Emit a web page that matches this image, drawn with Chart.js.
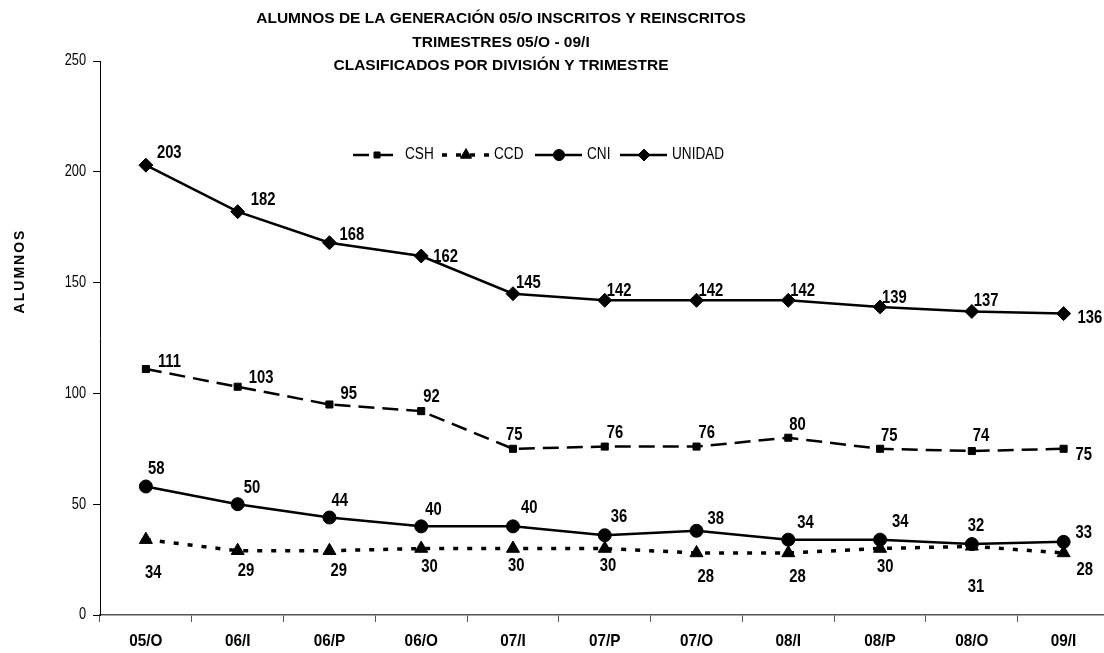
<!DOCTYPE html>
<html><head><meta charset="utf-8">
<script src="https://cdn.jsdelivr.net/npm/chart.js@4"></script>
<style>html,body{margin:0;padding:0;background:#fff;overflow:hidden}#wrap{width:1104px;height:653px;overflow:hidden}</style>
</head><body><div id="wrap"><canvas id="c" width="1118" height="653"></canvas></div>
<script>
const categories = ['05/O','06/I','06/P','06/O','07/I','07/P','07/O','08/I','08/P','08/O','09/I'];
const csh    = [111,103,95,92,75,76,76,80,75,74,75];
const ccd    = [34,29,29,30,30,30,28,28,30,31,28];
const cni    = [58,50,44,40,40,36,38,34,34,32,33];
const unidad = [203,182,168,162,145,142,142,142,139,137,136];
const yTicks = [0,50,100,150,200,250];
const titleLines = ['ALUMNOS DE LA GENERACIÓN 05/O INSCRITOS Y REINSCRITOS','TRIMESTRES 05/O - 09/I','CLASIFICADOS POR DIVISIÓN Y TRIMESTRE'];
const FONT = '"Liberation Sans",Arial,sans-serif';

function drawText(ctx, text, x, y, font, align, sx){
  ctx.save();
  ctx.font = font;
  ctx.textBaseline = 'middle';
  ctx.textAlign = align;
  ctx.translate(x, y);
  ctx.scale(sx, 1);
  ctx.fillText(text, 0, 0);
  ctx.restore();
}

const labelPos = {
  CSH:    {dx:6, dy:-12, over:{0:[12,-7],1:[11,-9],2:[11,-11],3:[2,-14],4:[-7,-14],5:[2,-14],6:[2,-14],7:[1,-13],8:[1,-13],9:[1,-15],10:[12,6]}},
  CCD:    {dx:0, dy:24, over:{0:[-1,33],1:[0,20],2:[1,20],3:[0,18],4:[-5,17],5:[-5,17],6:[1,24],7:[1,24],8:[-3,18],9:[-4,40],10:[13,17]}},
  CNI:    {dx:4, dy:-17, over:{0:[2,-18],1:[6,-16],2:[2,-17],3:[4,-17],4:[8,-19],5:[6,-18],6:[11,-12],7:[9,-17],8:[12,-18],9:[-4,-18],10:[12,-9]}},
  UNIDAD: {dx:11, dy:-11, over:{0:[11,-12],1:[13,-12],2:[10,-8],3:[12,1],4:[3,-11],5:[2,-10],6:[2,-10],7:[2,-10],8:[2,-9],9:[2,-11],10:[14,4]}}
};
const legendX = [353,442,535,620];

const labelPlugin = {
  id:'dlabels',
  afterDatasetsDraw(chart){
    const ctx = chart.ctx;
    ctx.fillStyle = '#000';
    chart.data.datasets.forEach((ds,i)=>{
      const meta = chart.getDatasetMeta(i);
      const p = labelPos[ds.label];
      meta.data.forEach((pt,j)=>{
        const o = p.over[j] || [p.dx,p.dy];
        drawText(ctx, String(ds.data[j]), pt.x + o[0], pt.y + o[1], 'bold 19px '+FONT, 'left', 0.78);
      });
    });
  }
};

const decoPlugin = {
  id:'deco',
  afterDraw(chart){
    const ctx = chart.ctx;
    ctx.save();
    ctx.fillStyle = '#000';
    titleLines.forEach((t,i)=>drawText(ctx, t, 501, 19 + i*23.5, 'bold 15.5px '+FONT, 'center', 1));
    const xs = chart.scales.x, ys = chart.scales.y;
    categories.forEach((c,i)=>drawText(ctx, c, xs.getPixelForValue(i), xs.top + 26, 'bold 17px '+FONT, 'center', 0.9));
    yTicks.forEach(v=>drawText(ctx, String(v), ys.right - 14, ys.getPixelForValue(v), '16px '+FONT, 'right', 0.8));
    ctx.save();
    ctx.translate(20, 271);
    ctx.rotate(-Math.PI/2);
    ctx.font = 'bold 14px '+FONT;
    ctx.letterSpacing = '2px';
    ctx.textAlign = 'center';
    ctx.textBaseline = 'middle';
    ctx.fillText('ALUMNOS', 0, 0);
    ctx.restore();
    const y = 155;
    chart.data.datasets.forEach((ds,i)=>{
      const x = legendX[i];
      ctx.save();
      ctx.strokeStyle = '#000';
      ctx.lineWidth = ds.borderWidth;
      ctx.setLineDash(ds.borderDash || []);
      ctx.beginPath(); ctx.moveTo(x, y); ctx.lineTo(x+47, y); ctx.stroke();
      ctx.restore();
      Chart.helpers.drawPoint(ctx, {pointStyle: ds.pointStyle, radius: ds.pointRadius*0.85, borderWidth:1}, x+24, y);
      drawText(ctx, ds.label, x+52, y, '16px '+FONT, 'left', 0.85);
    });
    ctx.restore();
  }
};

const mk = (label, data, style, radius, dash, width) => ({
  label, data, borderColor:'#000', backgroundColor:'#000', borderWidth:width,
  borderDash:dash, pointStyle:style, pointRadius:radius, pointHoverRadius:radius,
  pointBackgroundColor:'#000', pointBorderColor:'#000', pointBorderWidth:1, tension:0, fill:false
});

new Chart(document.getElementById('c'), {
  type:'line',
  data:{
    labels:categories,
    datasets:[
      mk('CSH', csh, 'rect', 5, [16,8], 2.5),
      mk('CCD', ccd, 'triangle', 7.5, [5,9], 3.5),
      mk('CNI', cni, 'circle', 6.5, [], 2.5),
      mk('UNIDAD', unidad, 'rectRot', 7, [], 2.5)
    ]
  },
  options:{
    responsive:false, animation:false,
    layout:{padding:{top:61,left:0,right:0,bottom:0}},
    plugins:{legend:{display:false}, title:{display:false}, tooltip:{enabled:false}},
    scales:{
      x:{
        offset:true,
        grid:{offset:true, drawOnChartArea:false, drawTicks:true, tickLength:7, color:'#555'},
        border:{color:'#555', width:1.5},
        ticks:{display:false},
        afterFit(s){ s.height = 38; }
      },
      y:{
        min:0, max:250,
        afterBuildTicks(s){ s.ticks = yTicks.map(v=>({value:v})); },
        grid:{drawOnChartArea:false, drawTicks:true, tickLength:7, color:'#000'},
        border:{color:'#000', width:1},
        ticks:{display:false},
        afterFit(s){ s.width = 100; }
      }
    }
  },
  plugins:[labelPlugin, decoPlugin]
});
</script></body></html>
